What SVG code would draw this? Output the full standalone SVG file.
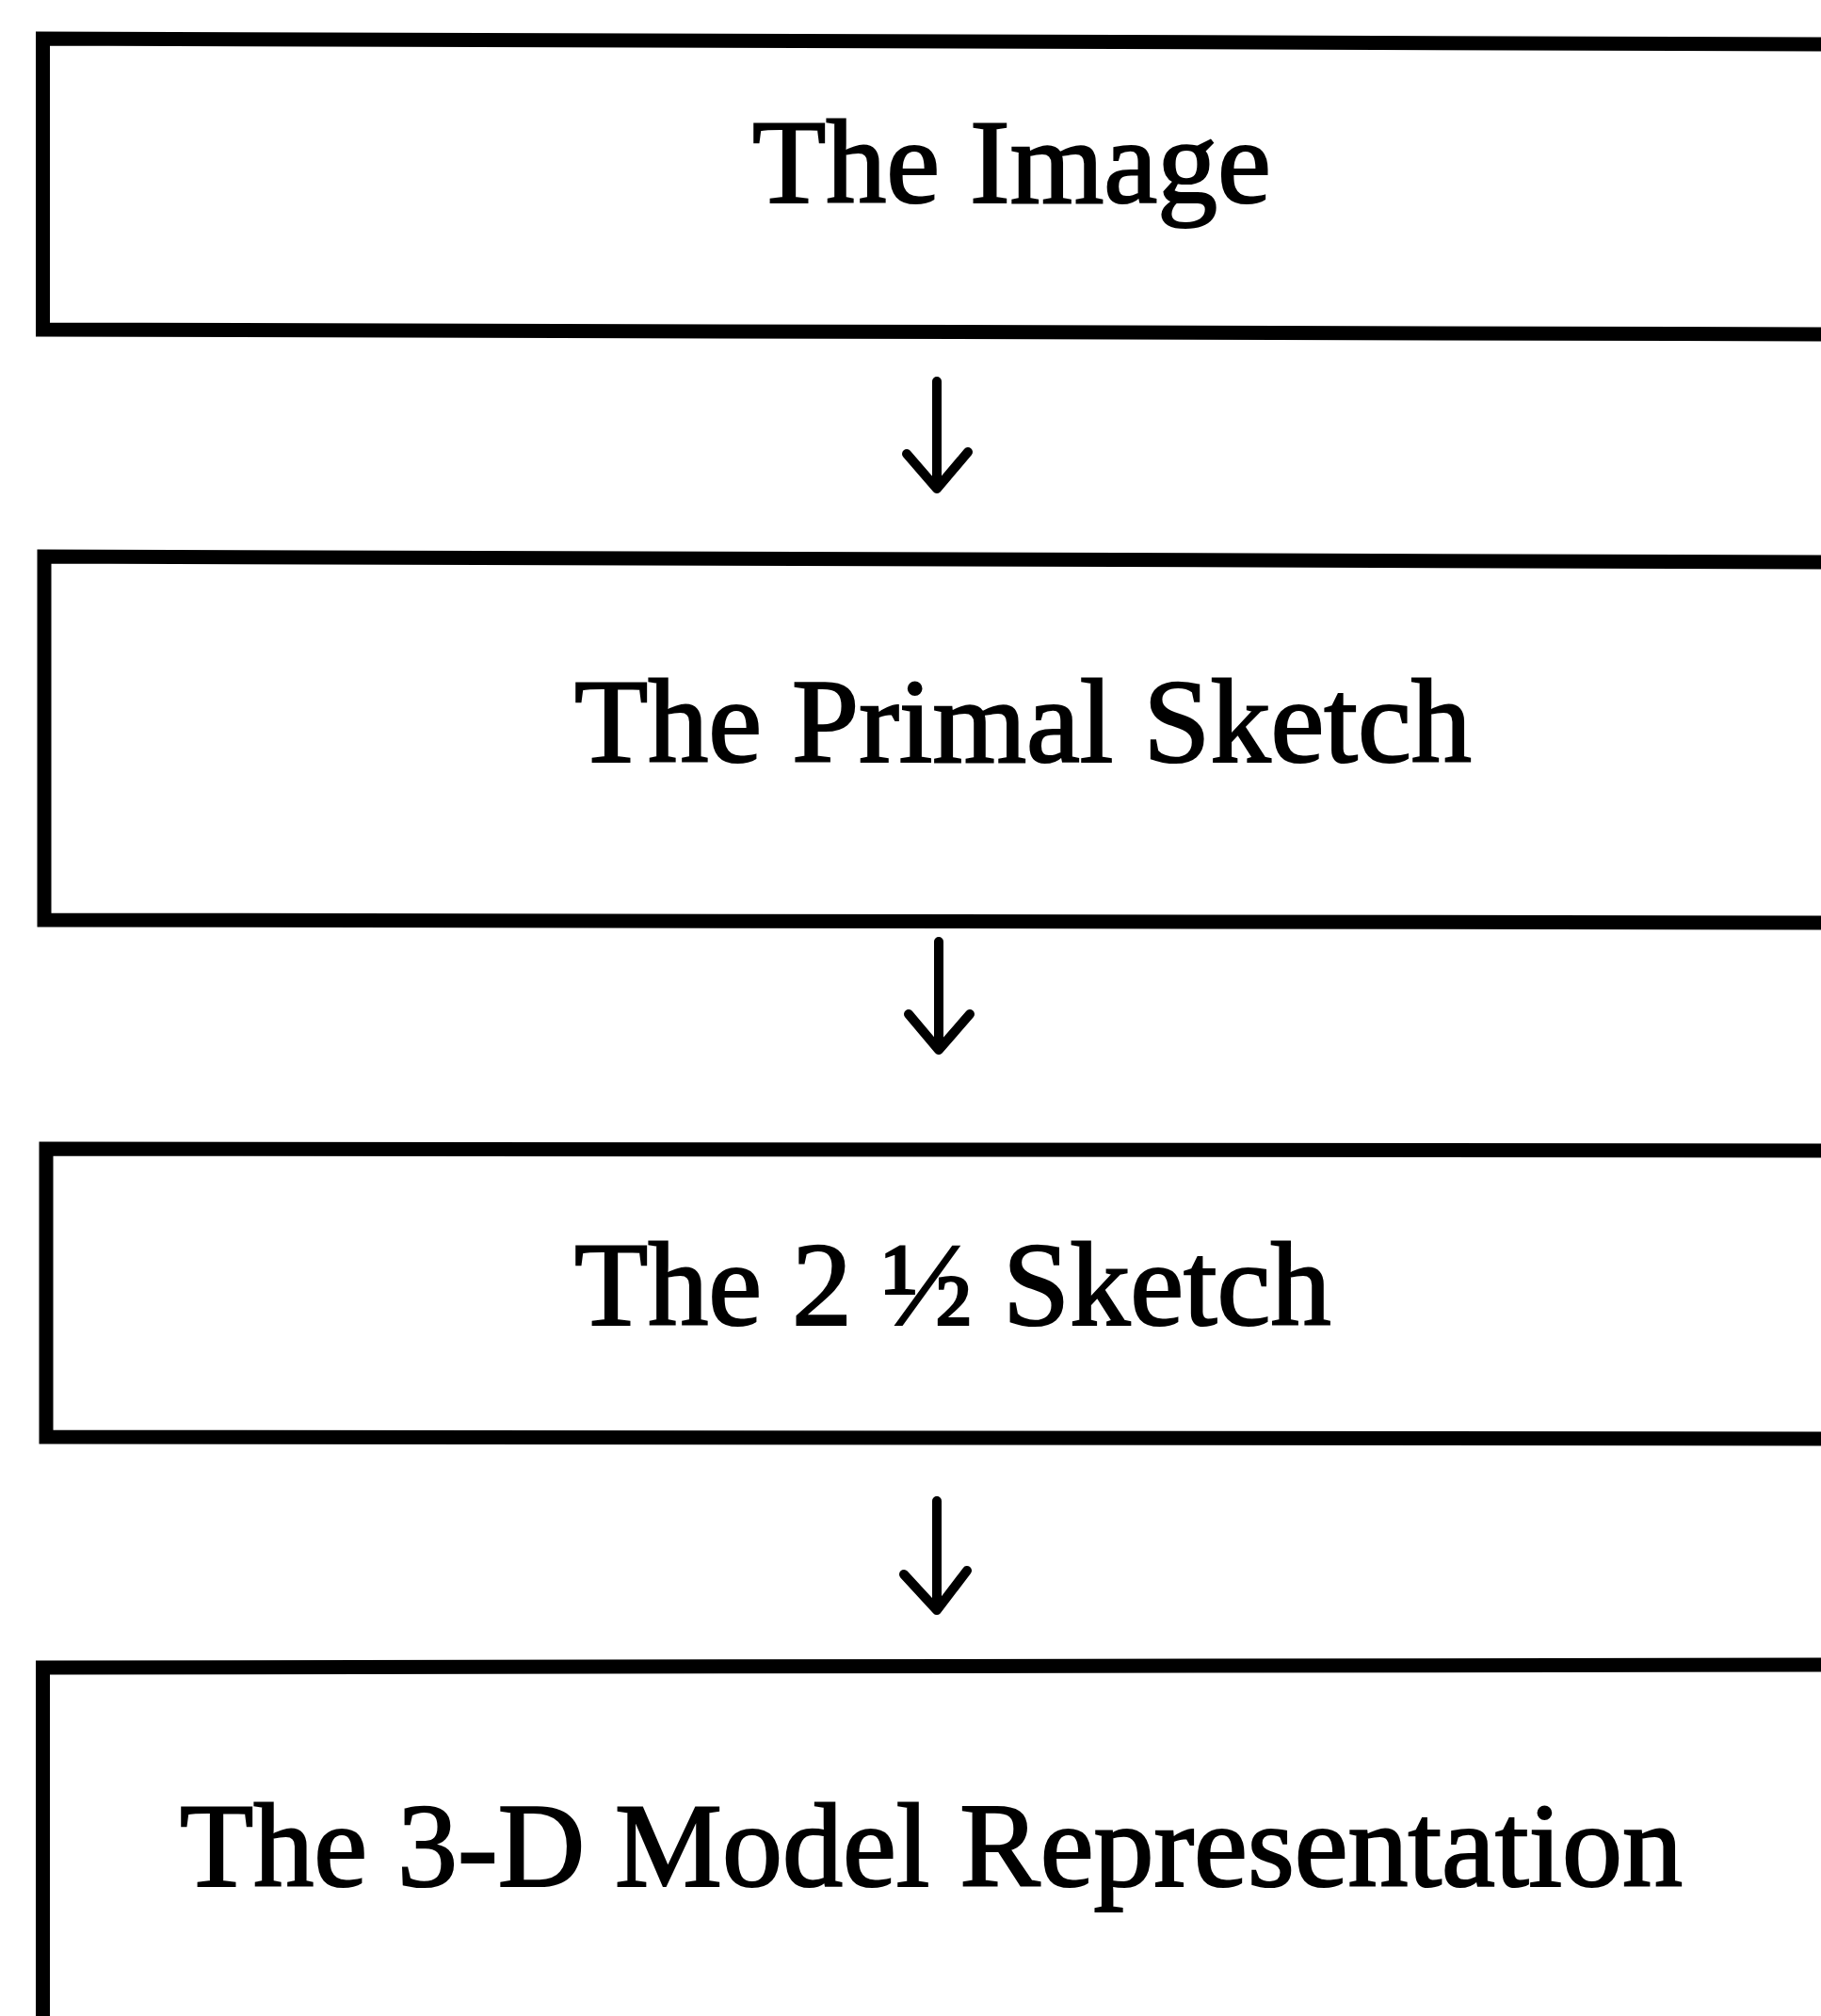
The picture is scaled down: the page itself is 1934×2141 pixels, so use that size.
<svg xmlns="http://www.w3.org/2000/svg" width="1934" height="2141" viewBox="0 0 1934 2141">
<style>
.box{fill:none;stroke:#000;stroke-width:15;stroke-linejoin:miter}
.lbl{font-family:"Liberation Serif","Times New Roman",serif;font-size:128px;fill:#000;stroke:#000;stroke-width:2.2}
.arr{fill:none;stroke:#000;stroke-width:10;stroke-linecap:round;stroke-linejoin:round}
</style>
<rect width="1934" height="2141" fill="#fff"/>
<g id="node-image">
<path class="box" d="M1945 47 L45.5 41 L45.5 350 L1945 355"/>
<text class="lbl" x="799" y="215">The Image</text>
</g>
<g id="node-primal">
<path class="box" d="M1945 597 L47 591 L47 977 L1945 980"/>
<text class="lbl" x="610" y="809">The Primal Sketch</text>
</g>
<g id="node-25d">
<path class="box" d="M1945 1222 L49 1220 L49 1526 L1945 1528"/>
<text class="lbl" x="610" y="1407">The 2 ½ Sketch</text>
</g>
<g id="node-3d">
<path class="box" d="M1945 1768 L45.5 1771 L45.5 2150"/>
<text class="lbl" x="191" y="2003">The 3-D Model Representation</text>
</g>
<g id="connectors">
<path class="arr" d="M995 405 L995 518 M963 482 L995 519 L1028 480"/>
<path class="arr" d="M997 1000 L997 1114 M965 1077 L997 1115 L1030 1077"/>
<path class="arr" d="M995 1594 L995 1709 M960 1672 L995 1710 L1027 1668"/>
</g>
</svg>
